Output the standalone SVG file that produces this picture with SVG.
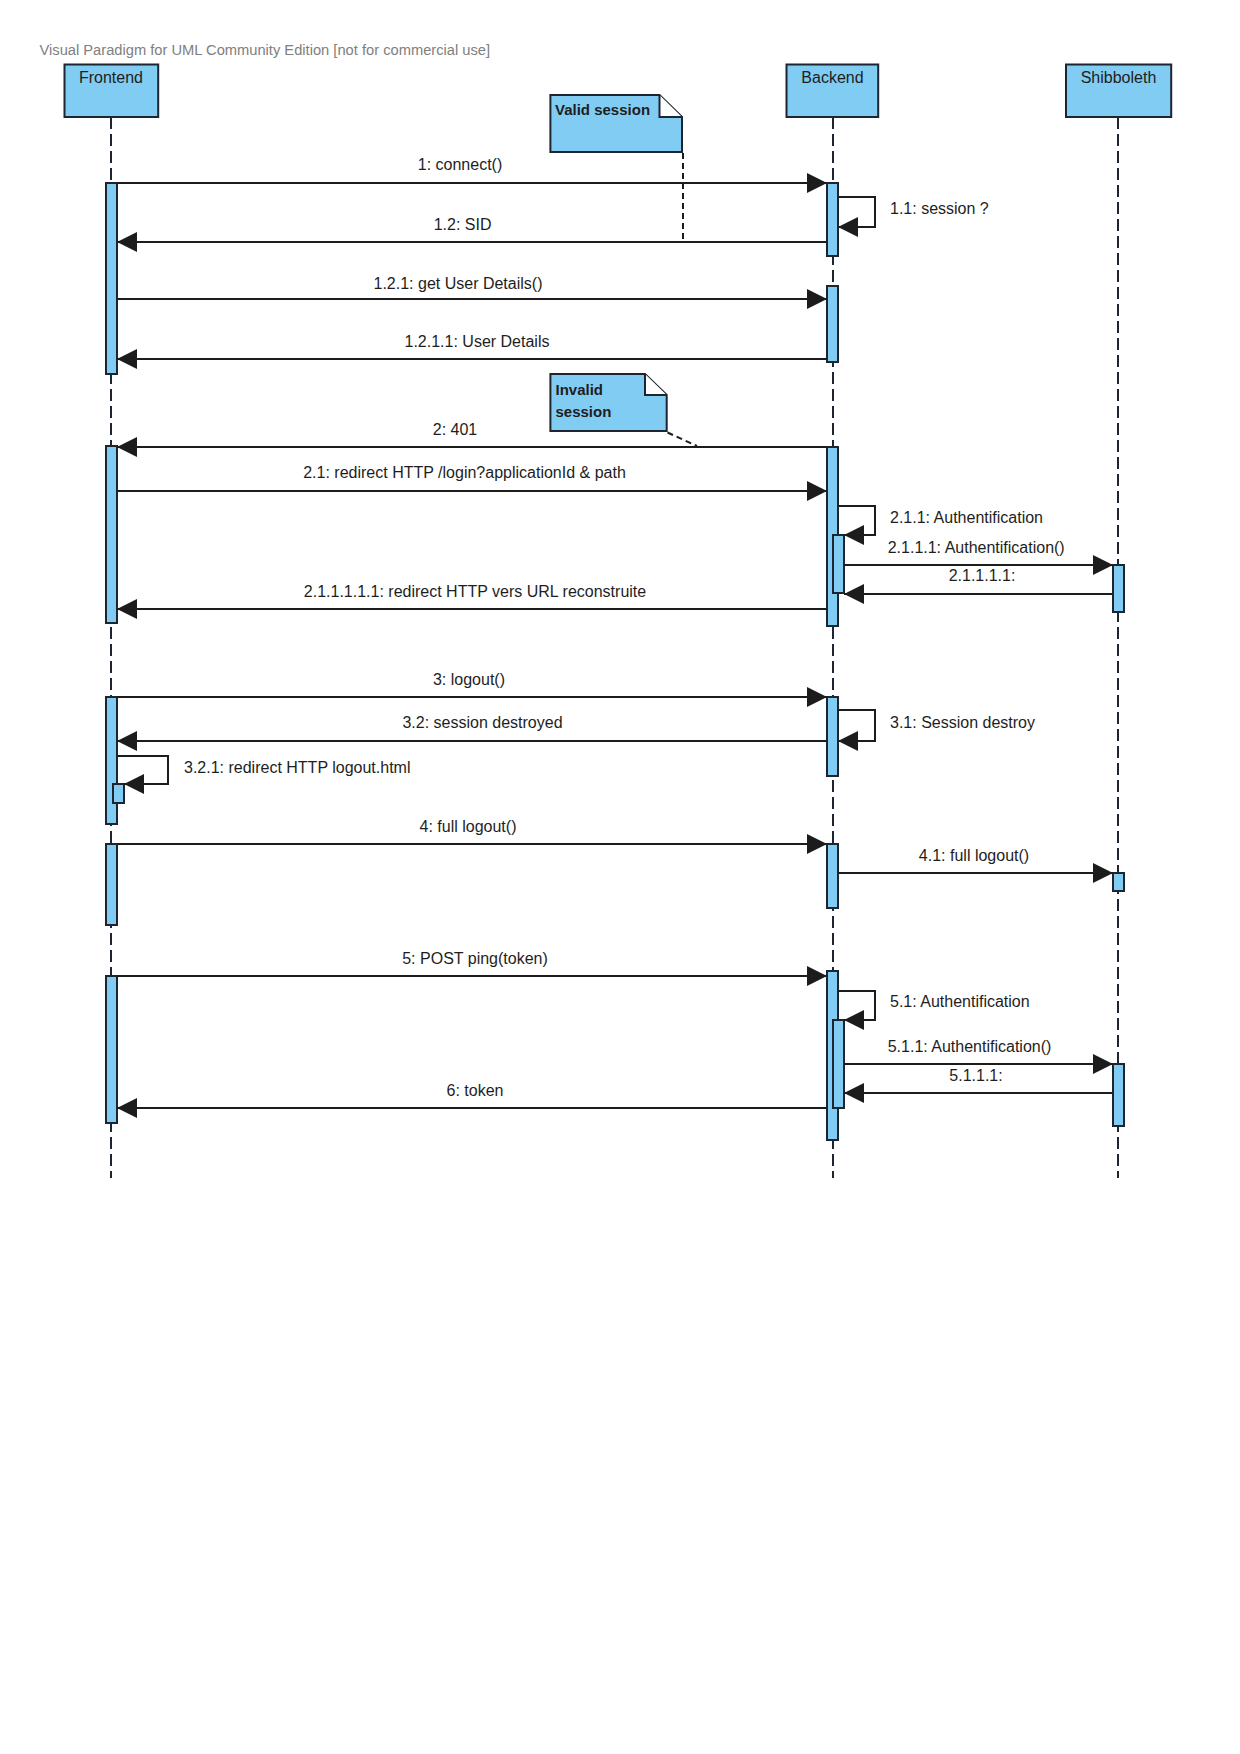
<svg xmlns="http://www.w3.org/2000/svg" width="1240" height="1754" viewBox="0 0 1240 1754">
<style>
.bg{fill:#ffffff}
.box{fill:#80CCF2;stroke:#1c2530;stroke-width:2}
.act{fill:#80CCF2;stroke:#1c2530;stroke-width:2}
.life{stroke:#1c2530;stroke-width:2;stroke-dasharray:12 5;fill:none}
.msg{stroke:#1c1c1c;stroke-width:2;fill:none;marker-end:url(#arr)}
.anch{stroke:#1c1c1c;stroke-width:2;stroke-dasharray:6 4;fill:none}
.t{font-family:"Liberation Sans",Arial,sans-serif;font-size:16px;fill:#1e1e1e}
.m{text-anchor:middle}
.nt{font-family:"Liberation Sans",Arial,sans-serif;font-size:15px;font-weight:bold;fill:#1e1e1e}
.title{font-family:"Liberation Sans",Arial,sans-serif;font-size:14.7px;fill:#808080}
</style>
<defs>
<marker id="arr" markerUnits="userSpaceOnUse" markerWidth="20" markerHeight="20" refX="20" refY="10" orient="auto">
<path d="M0,0 L20,10 L0,20 z" fill="#1c1c1c"/>
</marker>
</defs>
<rect class="bg" x="0" y="0" width="1240" height="1754"/>
<text class="title" x="39.5" y="55">Visual Paradigm for UML Community Edition [not for commercial use]</text>

<g id="frontend">
<line class="life" x1="111" y1="117" x2="111" y2="1178"/>
<rect class="box" x="64.5" y="64.5" width="93.7" height="52.5"/>
<text class="t m" x="111" y="83">Frontend</text>
</g>
<g id="backend">
<line class="life" x1="833" y1="117" x2="833" y2="1178"/>
<rect class="box" x="786.5" y="64.5" width="91.7" height="52.5"/>
<text class="t m" x="832.5" y="83">Backend</text>
</g>
<g id="shibboleth">
<line class="life" x1="1118" y1="117" x2="1118" y2="1178"/>
<rect class="box" x="1066" y="64.5" width="105.2" height="52.5"/>
<text class="t m" x="1118.5" y="83">Shibboleth</text>
</g>

<g id="activations">
<rect class="act" x="106" y="183" width="11" height="191"/>
<rect class="act" x="106" y="446" width="11" height="177"/>
<rect class="act" x="106" y="697" width="11" height="127"/>
<rect class="act" x="113" y="784" width="11" height="19"/>
<rect class="act" x="106" y="844" width="11" height="81"/>
<rect class="act" x="106" y="976" width="11" height="147"/>
<rect class="act" x="827" y="183" width="11" height="73"/>
<rect class="act" x="827" y="286" width="11" height="76"/>
<rect class="act" x="827" y="447" width="11" height="179"/>
<rect class="act" x="833" y="535" width="11" height="58"/>
<rect class="act" x="827" y="697" width="11" height="79"/>
<rect class="act" x="827" y="844" width="11" height="64"/>
<rect class="act" x="827" y="971" width="11" height="169"/>
<rect class="act" x="833" y="1020" width="11" height="88"/>
<rect class="act" x="1113" y="565" width="11" height="47"/>
<rect class="act" x="1113" y="873" width="11" height="18"/>
<rect class="act" x="1113" y="1064" width="11" height="62"/>
</g>

<g id="note-valid">
<path class="box" d="M550.4,95 L659.5,95 L682,117 L682,152 L550.4,152 Z"/>
<path d="M659.5,95 L659.5,117 L682,117" fill="#ffffff" stroke="#1c2530" stroke-width="2"/>
<text class="nt" x="555" y="115">Valid session</text>
</g>
<g id="note-invalid">
<path class="box" d="M550.4,374 L645,374 L666.7,395 L666.7,431 L550.4,431 Z"/>
<path d="M645,374 L645,395 L666.7,395" fill="#ffffff" stroke="#1c2530" stroke-width="2"/>
<text class="nt" x="555.5" y="395">Invalid</text>
<text class="nt" x="555.5" y="417">session</text>
</g>

<g id="connectors">
<line class="anch" x1="683" y1="153" x2="683" y2="242"/>
<line class="anch" x1="667.5" y1="432.5" x2="697" y2="446"/>

<line class="msg" x1="117" y1="183" x2="827" y2="183"/>
<path class="msg" d="M838,197 L875,197 L875,227 L838,227"/>
<line class="msg" x1="827" y1="242" x2="117" y2="242"/>
<line class="msg" x1="117" y1="299" x2="827" y2="299"/>
<line class="msg" x1="827" y1="359" x2="117" y2="359"/>
<line class="msg" x1="827" y1="447" x2="117" y2="447"/>
<line class="msg" x1="117" y1="491" x2="827" y2="491"/>
<path class="msg" d="M838,506 L875,506 L875,535 L844,535"/>
<line class="msg" x1="844" y1="565" x2="1113" y2="565"/>
<line class="msg" x1="1113" y1="594" x2="844" y2="594"/>
<line class="msg" x1="827" y1="609" x2="117" y2="609"/>
<line class="msg" x1="117" y1="697" x2="827" y2="697"/>
<path class="msg" d="M838,710 L875,710 L875,741 L838,741"/>
<line class="msg" x1="827" y1="741" x2="117" y2="741"/>
<path class="msg" d="M117,756 L168,756 L168,784 L124,784"/>
<line class="msg" x1="117" y1="844" x2="827" y2="844"/>
<line class="msg" x1="838" y1="873" x2="1113" y2="873"/>
<line class="msg" x1="117" y1="976" x2="827" y2="976"/>
<path class="msg" d="M838,991 L875,991 L875,1020 L844,1020"/>
<line class="msg" x1="844" y1="1064" x2="1113" y2="1064"/>
<line class="msg" x1="1113" y1="1093" x2="844" y2="1093"/>
<line class="msg" x1="827" y1="1108" x2="117" y2="1108"/>
</g>

<g id="labels">
<text class="t m" x="460" y="170">1: connect()</text>
<text class="t" x="890" y="214">1.1: session ?</text>
<text class="t m" x="462.6" y="230">1.2: SID</text>
<text class="t m" x="458" y="289">1.2.1: get User Details()</text>
<text class="t m" x="477" y="347">1.2.1.1: User Details</text>
<text class="t m" x="455" y="435">2: 401</text>
<text class="t m" x="464.5" y="478">2.1: redirect HTTP /login?applicationId &amp; path</text>
<text class="t" x="890" y="523">2.1.1: Authentification</text>
<text class="t" x="887.7" y="553">2.1.1.1: Authentification()</text>
<text class="t m" x="982" y="581">2.1.1.1.1:</text>
<text class="t m" x="475" y="597">2.1.1.1.1.1: redirect HTTP vers URL reconstruite</text>
<text class="t m" x="469" y="685">3: logout()</text>
<text class="t" x="890" y="728">3.1: Session destroy</text>
<text class="t m" x="482.5" y="728">3.2: session destroyed</text>
<text class="t" x="184" y="773">3.2.1: redirect HTTP logout.html</text>
<text class="t m" x="468" y="832">4: full logout()</text>
<text class="t m" x="974" y="861">4.1: full logout()</text>
<text class="t m" x="475" y="964">5: POST ping(token)</text>
<text class="t" x="890" y="1007">5.1: Authentification</text>
<text class="t" x="887.7" y="1052">5.1.1: Authentification()</text>
<text class="t m" x="976" y="1081">5.1.1.1:</text>
<text class="t m" x="475" y="1096">6: token</text>
</g>
</svg>
